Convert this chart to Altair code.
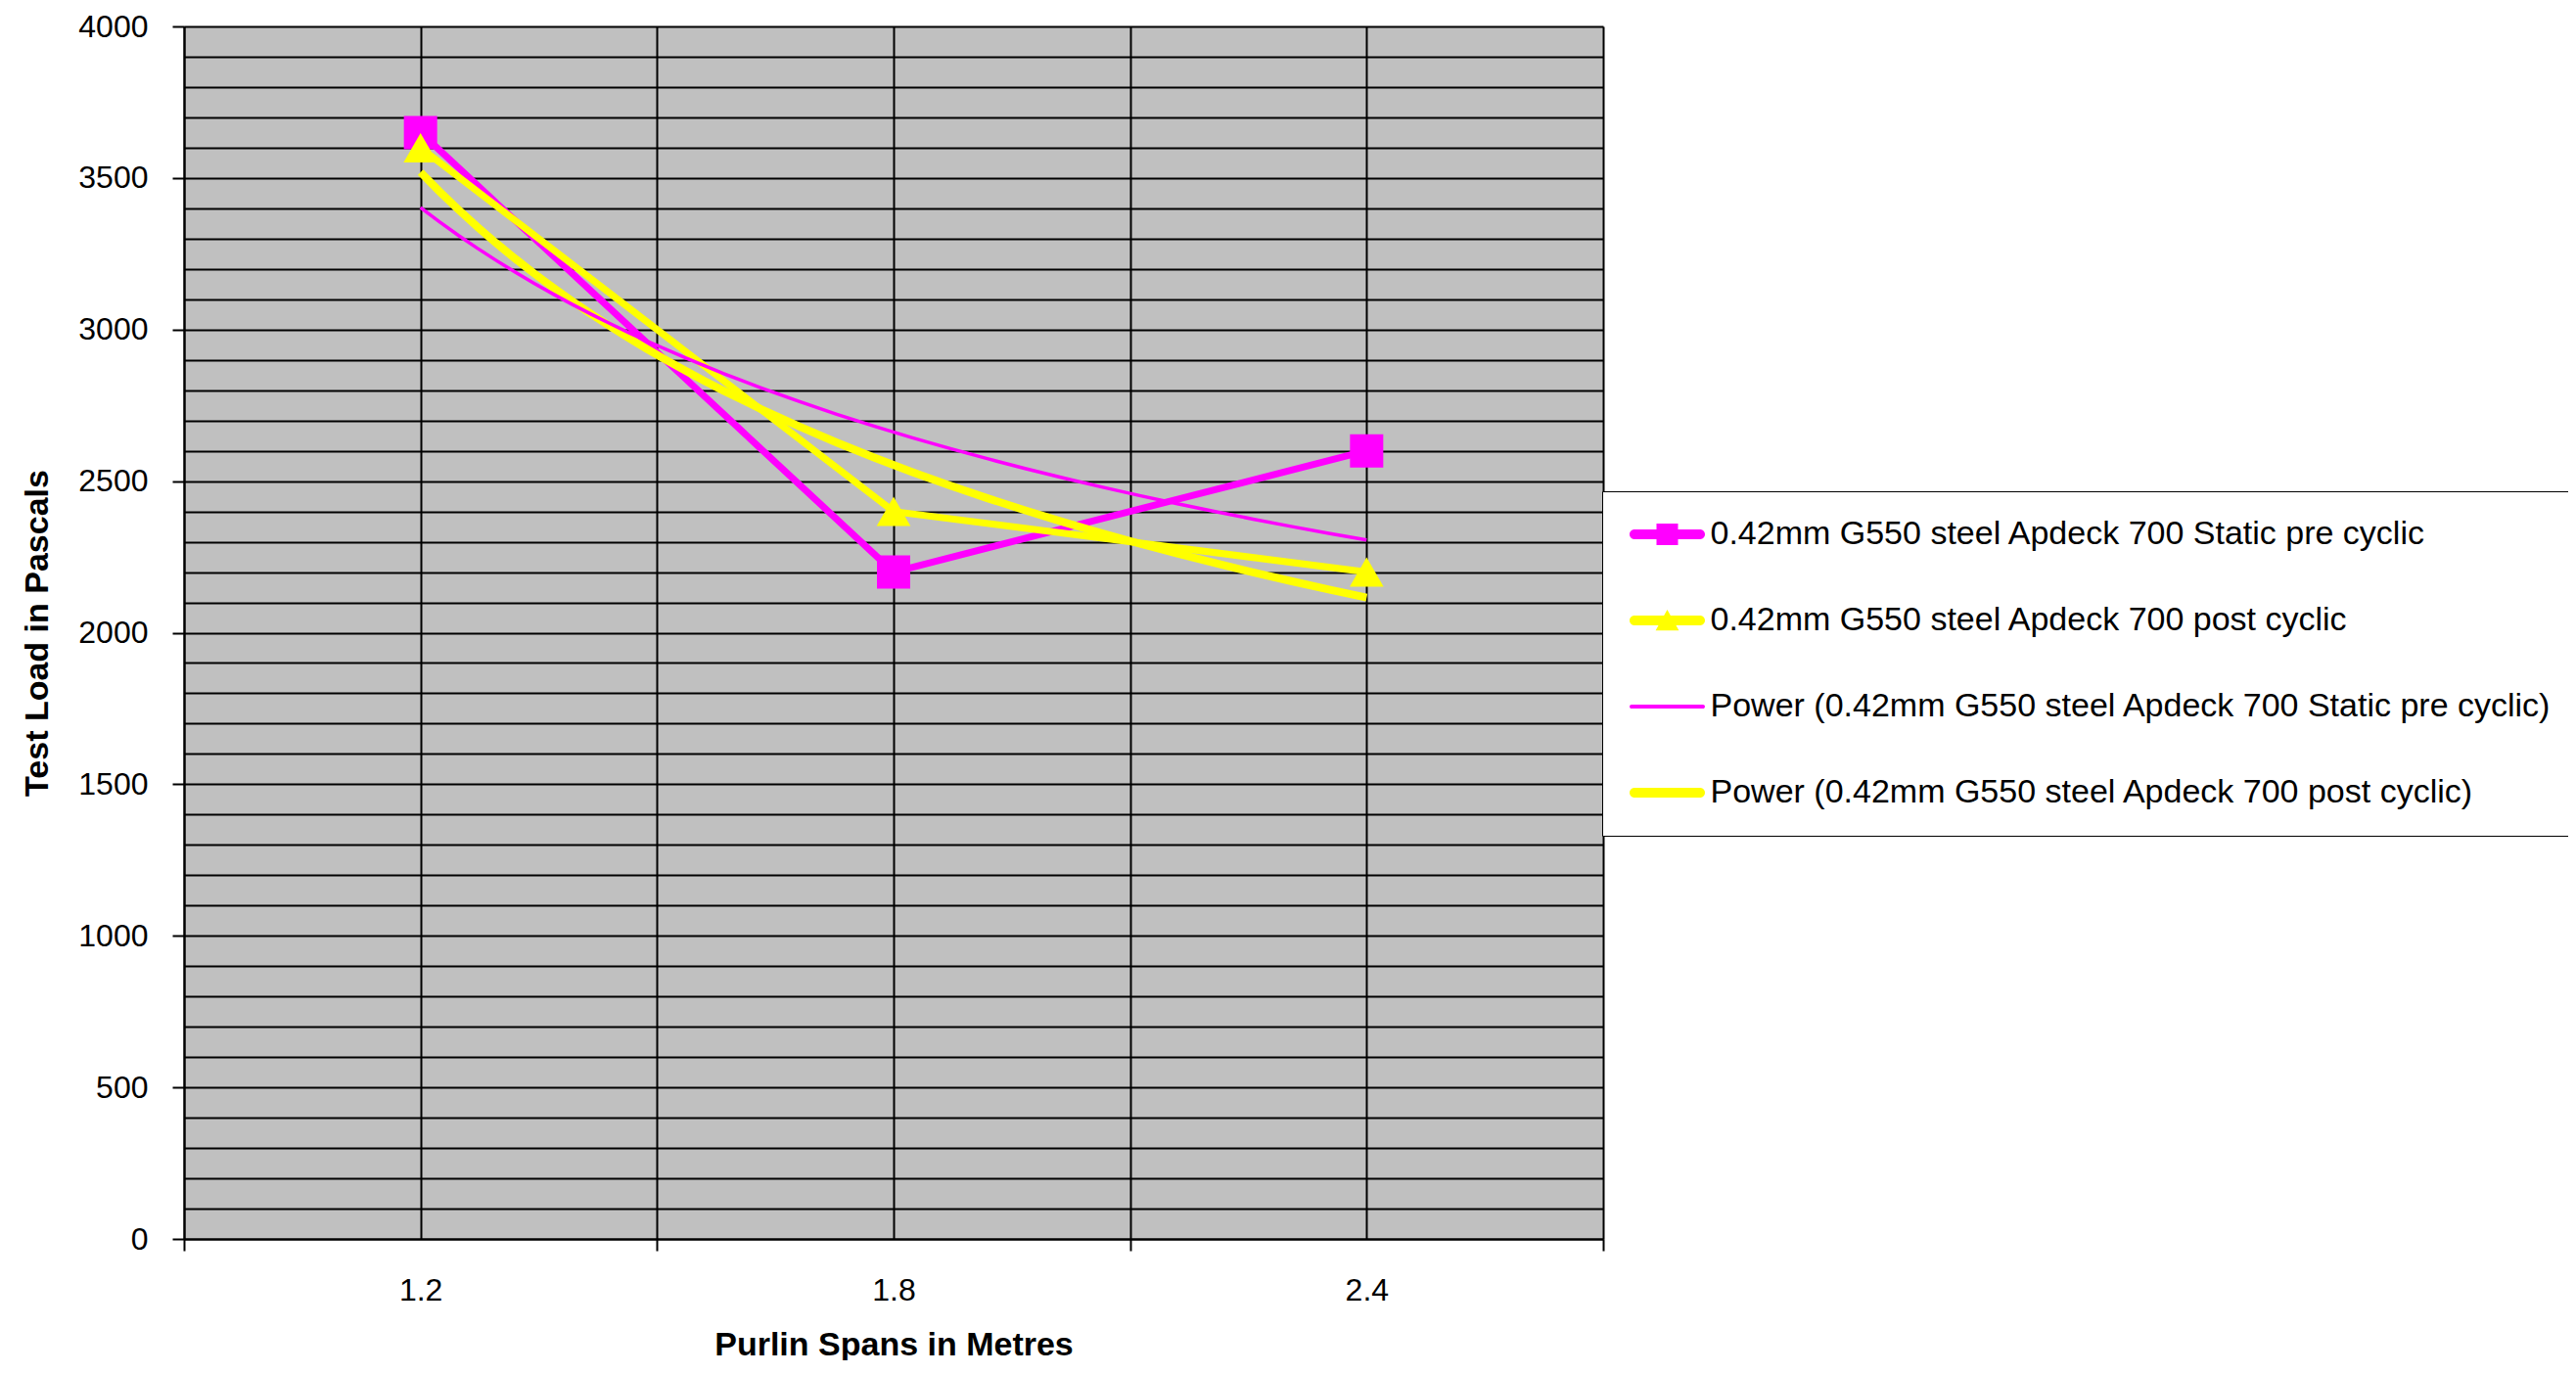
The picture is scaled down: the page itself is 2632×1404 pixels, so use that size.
import altair as alt
import pandas as pd

# ---- data ----
spans = ["1.2", "1.8", "2.4"]
pre_cyclic = [3650, 2200, 2600]
post_cyclic = [3600, 2400, 2200]

name_pre = "0.42mm G550 steel Apdeck 700 Static pre cyclic"
name_post = "0.42mm G550 steel Apdeck 700 post cyclic"
name_pre_pow = "Power (0.42mm G550 steel Apdeck 700 Static pre cyclic)"
name_post_pow = "Power (0.42mm G550 steel Apdeck 700 post cyclic)"
series_names = [name_pre, name_post, name_pre_pow, name_post_pow]

MAGENTA = "#FF00FF"
YELLOW = "#FFFF00"
FONT = "Liberation Sans"

# Excel category axis: points at index 1..n
idx = list(range(1, len(spans) + 1))
df = pd.DataFrame({
    "idx": idx * 2,
    "span": spans * 2,
    "load": pre_cyclic + post_cyclic,
    "series": [name_pre] * len(spans) + [name_post] * len(spans),
})
legend_df = pd.DataFrame({"series": series_names})

x_label_expr = " : ".join(
    f"datum.value == {i} ? '{s}'" for i, s in zip(idx, spans)
) + " : ''"

x_axis = alt.Axis(
    values=[0.5, 1, 1.5, 2, 2.5, 3, 3.5],
    grid=True, gridColor="black", gridWidth=2, gridOpacity=1,
    domainColor="black", domainWidth=2,
    tickColor="black", tickWidth=2, tickSize=12,
    tickOpacity={"condition": {"test": "datum.value % 1 != 0", "value": 1}, "value": 0},
    labelExpr=x_label_expr, labelFont=FONT, labelFontSize=32, labelColor="black",
    labelPadding=25, labelFlush=False, labelOverlap=False,
    title="Purlin Spans in Metres", titleFont=FONT, titleFontSize=34,
    titleFontWeight="bold", titleColor="black", titleY=118, titleBaseline="alphabetic",
)
y_axis = alt.Axis(
    values=list(range(0, 4001, 100)), format="d",
    grid=True, gridColor="black", gridWidth=2, gridOpacity=1,
    domainColor="black", domainWidth=2,
    tickColor="black", tickWidth=2, tickSize=12,
    tickOpacity={"condition": {"test": "datum.value % 500 == 0", "value": 1}, "value": 0},
    labelExpr="datum.value % 500 == 0 ? datum.label : ''",
    labelFont=FONT, labelFontSize=32, labelColor="black", labelPadding=25,
    labelOverlap=False,
    title="Test Load in Pascals", titleFont=FONT, titleFontSize=34,
    titleFontWeight="bold", titleColor="black", titleX=-140, titleBaseline="alphabetic",
)

X = alt.X("idx:Q", scale=alt.Scale(domain=[0.5, 3.5], nice=False, zero=False), axis=x_axis)
Y = alt.Y("load:Q", scale=alt.Scale(domain=[0, 4000], nice=False), axis=y_axis)

base = alt.Chart(df)

pre_line = base.transform_filter(alt.datum.series == name_pre).mark_line(
    color=MAGENTA, strokeWidth=7).encode(x=X, y=Y)
pre_pts = base.transform_filter(alt.datum.series == name_pre).mark_point(
    shape="square", filled=True, size=1156, color=MAGENTA, opacity=1).encode(x=X, y=Y)
post_line = base.transform_filter(alt.datum.series == name_post).mark_line(
    color=YELLOW, strokeWidth=7).encode(x=X, y=Y)
post_pts = base.transform_filter(alt.datum.series == name_post).mark_point(
    shape="triangle-up", filled=True, size=1200, color=YELLOW, opacity=1).encode(x=X, y=Y)

post_trend = base.transform_filter(alt.datum.series == name_post).transform_regression(
    "idx", "load", method="pow", extent=[1, 3]
).mark_line(color=YELLOW, strokeWidth=8).encode(x=X, y=Y)
pre_trend = base.transform_filter(alt.datum.series == name_pre).transform_regression(
    "idx", "load", method="pow", extent=[1, 3]
).mark_line(color=MAGENTA, strokeWidth=3.5).encode(x=X, y=Y)

# legend symbols (custom paths: line + marker)
bar_thick = ("M-1.971,-0.294 L1.971,-0.294 A0.294,0.294 0 0 1 1.971,0.294 "
             "L-1.971,0.294 A0.294,0.294 0 0 1 -1.971,-0.294 Z")
bar_thin = ("M-2.145,-0.12 L2.145,-0.12 A0.12,0.12 0 0 1 2.145,0.12 "
            "L-2.145,0.12 A0.12,0.12 0 0 1 -2.145,-0.12 Z")
sq = "M-0.647,-0.647 L0.647,-0.647 L0.647,0.647 L-0.647,0.647 Z"
tri = "M0,-0.65 L0.7,0.6 L-0.7,0.6 Z"
shape_paths = [bar_thick + " " + sq, bar_thick + " " + tri, bar_thin, bar_thick]

leg = alt.Legend(
    title=None, orient="none", legendX=1449, legendY=475, direction="vertical",
    fillColor="white", strokeColor="black", padding=27,
    labelFont=FONT, labelFontSize=34, labelColor="black", labelLimit=0,
    labelOffset=27, symbolOffset=22.5, symbolSize=1156, symbolOpacity=1,
    symbolStrokeWidth=0, rowPadding=54,
)
legend_layer = alt.Chart(legend_df).mark_point(filled=True, opacity=0).encode(
    x=alt.value(0), y=alt.value(0),
    color=alt.Color("series:N", scale=alt.Scale(domain=series_names,
                    range=[MAGENTA, YELLOW, MAGENTA, YELLOW]), legend=leg),
    shape=alt.Shape("series:N", scale=alt.Scale(domain=series_names, range=shape_paths),
                    legend=leg),
)

chart = alt.layer(
    pre_line, pre_pts, post_line, post_pts, post_trend, pre_trend, legend_layer
).properties(
    width=1450, height=1239,
    autosize=alt.AutoSizeParams(type="none"),
    padding={"left": 180, "top": 19, "right": 986, "bottom": 124},
    background="white",
).configure_view(fill="#C0C0C0", stroke=None)

chart.save("out.html", embed_options={"renderer": "svg", "actions": False})
